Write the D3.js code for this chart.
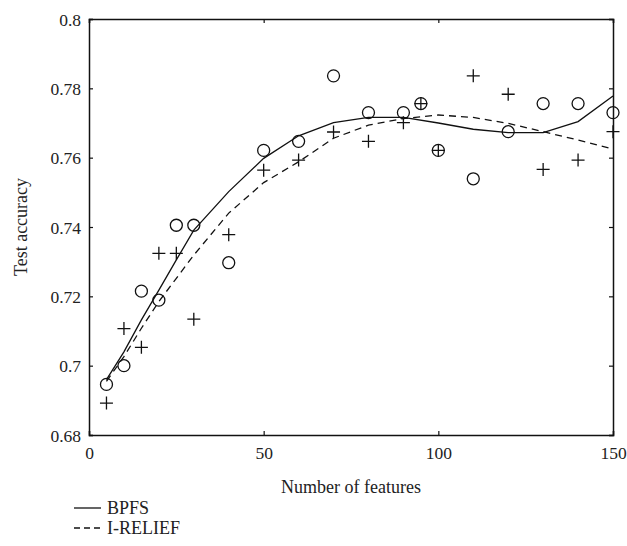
<!DOCTYPE html>
<html><head><meta charset="utf-8">
<script src="https://cdn.jsdelivr.net/npm/d3@7"></script>
<style>body{margin:0;background:#fff;} svg{display:block;} text{font-family:"Liberation Serif","DejaVu Serif",serif;fill:#222;}</style>
</head><body>
<svg id="chart" width="627" height="546"></svg>
<script>
const xs = [5,10,15,20,25,30,40,50,60,70,80,90,95,100,110,120,130,140,150];
const bpfsPoints = [0.6946,0.7000,0.7215,0.7189,0.7405,0.7405,0.7297,0.7621,0.7647,0.7836,0.7730,0.7730,0.7756,0.7621,0.7539,0.7675,0.7756,0.7756,0.7730];
const ireliefPoints = [0.6892,0.7107,0.7053,0.7324,0.7324,0.7134,0.7378,0.7564,0.7593,0.7674,0.7647,0.7701,0.7756,0.7621,0.7836,0.7783,0.7566,0.7593,0.7675];
const curveX = [5,10,15,20,25,30,40,50,60,70,80,90,100,110,120,130,140,150];
const bpfsCurve = [0.6960,0.7040,0.7132,0.7218,0.7305,0.7391,0.7502,0.7598,0.7663,0.7701,0.7716,0.7716,0.7700,0.7682,0.7672,0.7672,0.7704,0.7778];
const ireliefCurve = [0.6955,0.7026,0.7108,0.7185,0.7252,0.7319,0.7440,0.7528,0.7588,0.7656,0.7694,0.7713,0.7723,0.7716,0.7699,0.7675,0.7651,0.7625];
const xTicks = [0,50,100,150];
const yTicks = [0.68,0.7,0.72,0.74,0.76,0.78,0.8];
const legendLabels = ["BPFS","I-RELIEF"];

const svg = d3.select("#chart");
const L=89, R=613, T=19, B=435;
const x = d3.scaleLinear().domain([0,150]).range([L,R]);
const y = d3.scaleLinear().domain([0.68,0.8]).range([B,T]);
const fmt = d => (Math.abs(d-0.7)<1e-9||Math.abs(d-0.8)<1e-9)? d3.format(".1f")(d) : d3.format(".2f")(d);

const gx = svg.append("g").attr("transform",`translate(0,${B})`)
  .call(d3.axisBottom(x).tickValues(xTicks).tickSize(-4).tickPadding(12).tickFormat(d3.format("d")));
const gxt = svg.append("g").attr("transform",`translate(0,${T})`)
  .call(d3.axisTop(x).tickValues(xTicks).tickSize(-4).tickFormat(""));
const gy = svg.append("g").attr("transform",`translate(${L},0)`)
  .call(d3.axisLeft(y).tickValues(yTicks).tickSize(-4).tickPadding(8).tickFormat(fmt));
const gyr = svg.append("g").attr("transform",`translate(${R},0)`)
  .call(d3.axisRight(y).tickValues(yTicks).tickSize(-4).tickFormat(""));
[gx,gxt,gy,gyr].forEach(g=>{
  g.attr("font-family",null);
  g.select(".domain").attr("stroke","#111").attr("stroke-width",1.5);
  g.selectAll(".tick line").attr("stroke","#111").attr("stroke-width",1.2);
  g.selectAll("text").style("font-family","'Liberation Serif','DejaVu Serif',serif").style("font-size","17.5px").attr("fill","#222");
});
gy.selectAll("text").attr("dy","0.35em");

const line = d3.line().x((d,i)=>x(curveX[i])).y(d=>y(d));
svg.append("path").datum(bpfsCurve).attr("d",line).attr("fill","none").attr("stroke","#111").attr("stroke-width",1.3);
svg.append("path").datum(ireliefCurve).attr("d",line).attr("fill","none").attr("stroke","#111").attr("stroke-width",1.3).attr("stroke-dasharray","7,5");

svg.append("g").selectAll("circle").data(bpfsPoints).join("circle")
  .attr("cx",(d,i)=>x(xs[i])).attr("cy",d=>y(d)).attr("r",6)
  .attr("fill","none").attr("stroke","#111").attr("stroke-width",1.3);
const s=6.5;
svg.append("g").selectAll("path").data(ireliefPoints).join("path")
  .attr("d",(d,i)=>{const cx=x(xs[i]), cy=y(d); return `M${cx-s},${cy}H${cx+s}M${cx},${cy-s}V${cy+s}`;})
  .attr("stroke","#111").attr("stroke-width",1.3).attr("fill","none");

svg.append("text").attr("x",(L+R)/2).attr("y",493).attr("text-anchor","middle").style("font-size","18px").text("Number of features");
svg.append("text").attr("transform",`translate(27,${(T+B)/2}) rotate(-90)`).attr("text-anchor","middle").style("font-size","18px").text("Test accuracy");

const leg = svg.append("g");
legendLabels.forEach((lab,i)=>{
  const ly = 508 + i*20;
  leg.append("line").attr("x1",74).attr("x2",101).attr("y1",ly).attr("y2",ly)
    .attr("stroke","#111").attr("stroke-width",1.3).attr("stroke-dasharray", i===1?"6,4":null);
  leg.append("text").attr("x",107).attr("y",ly).attr("dy","0.35em").style("font-size","18px").text(lab);
});
</script>
</body></html>
